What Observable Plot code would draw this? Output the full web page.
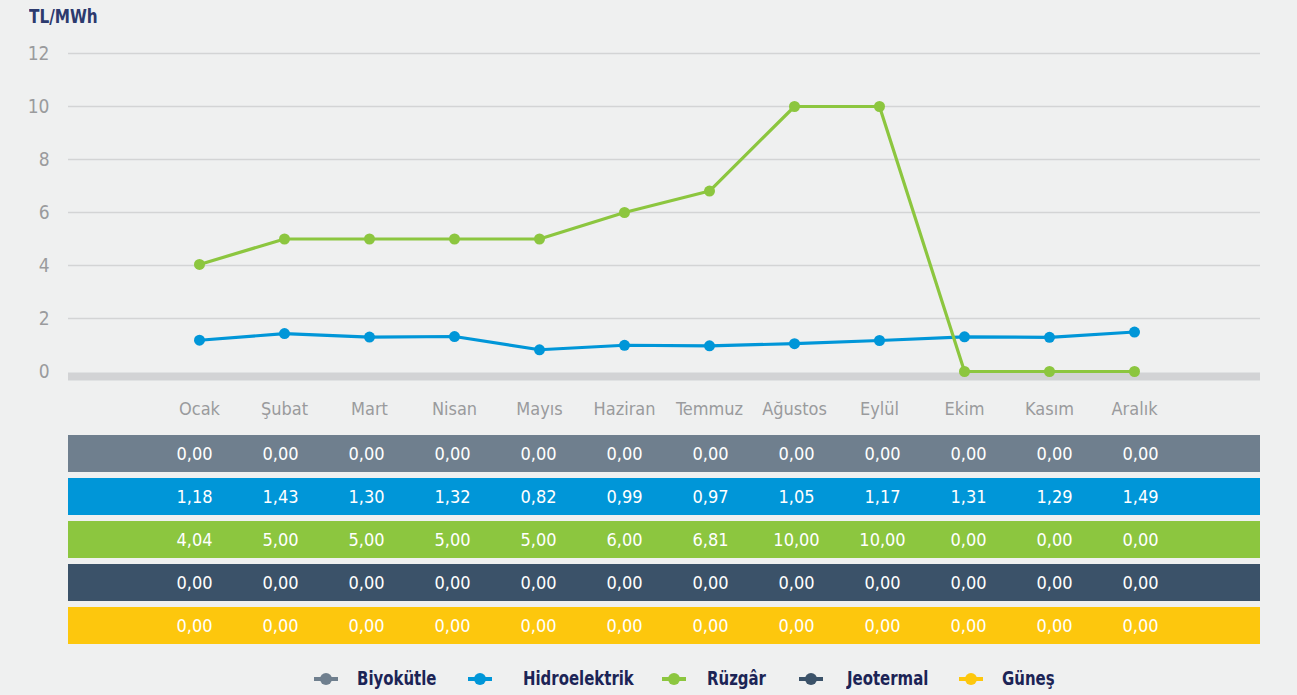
<!DOCTYPE html>
<html>
<head>
<meta charset="utf-8">
<script src="https://cdn.jsdelivr.net/npm/d3@7"></script>
<script src="https://cdn.jsdelivr.net/npm/@observablehq/plot@0.6"></script>
<style>
  html, body { margin: 0; padding: 0; background: #eff0f0; }
  body { width: 1297px; height: 695px; overflow: hidden; }
  #wrap { position: relative; width: 1297px; height: 695px;
    font-family: "Liberation Sans Narrow", "DejaVu Sans Condensed", "Roboto Condensed", Roboto, sans-serif; font-stretch: condensed; }
  #title { position: absolute; left: 29px; top: 4px; font-size: 20px; font-weight: bold; color: #2c3a6e; transform: scaleX(0.85); transform-origin: left center; }
  #chart { position: absolute; left: 0; top: 0; }
  #table { position: absolute; left: 0; top: 426px; }
  .leg { position: absolute; top: 666px; font-size: 20px; font-weight: bold; color: #1c2456; white-space: nowrap; transform: scaleX(0.83); transform-origin: left center; }
</style>
</head>
<body>
<div id="wrap">
  <div id="chart"></div>
  <div id="title">TL/MWh</div>
  <div id="table"></div>
  <div id="legend"></div>
</div>
<script>
const months = ["Ocak","Şubat","Mart","Nisan","Mayıs","Haziran","Temmuz","Ağustos","Eylül","Ekim","Kasım","Aralık"];
const seriesNames = ["Biyokütle","Hidroelektrik","Rüzgâr","Jeotermal","Güneş"];
const seriesColors = ["#6f7f8e","#0096d8","#8cc63f","#3b5269","#fdc70d"];
const biyokutle   = [0,0,0,0,0,0,0,0,0,0,0,0];
const hidro       = [1.18,1.43,1.30,1.32,0.82,0.99,0.97,1.05,1.17,1.31,1.29,1.49];
const ruzgar      = [4.04,5.00,5.00,5.00,5.00,6.00,6.81,10.00,10.00,0.00,0.00,0.00];
const jeotermal   = [0,0,0,0,0,0,0,0,0,0,0,0];
const gunes       = [0,0,0,0,0,0,0,0,0,0,0,0];
const yTicks = [0,2,4,6,8,10,12];
const plottedSeries = ["Hidroelektrik","Rüzgâr"];

const valuesBySeries = [biyokutle, hidro, ruzgar, jeotermal, gunes];
const rows = [];
seriesNames.forEach((s, i) => months.forEach((m, j) => rows.push({series: s, month: m, value: valuesBySeries[i][j]})));
const lineRows = rows.filter(d => plottedSeries.includes(d.series));

const font = '"Liberation Sans Narrow", "DejaVu Sans Condensed", "Roboto Condensed", Roboto, sans-serif';
const color = {domain: seriesNames, range: seriesColors};

const chart = Plot.plot({
  width: 1297, height: 428,
  marginLeft: 68, marginRight: 37, marginTop: 53, marginBottom: 57,
  style: {background: "transparent", fontFamily: font, overflow: "visible"},
  x: {type: "point", domain: months, range: [194, 1139], padding: 0},
  y: {domain: [0, 12]},
  color,
  marks: [
    Plot.ruleY(yTicks.filter(t => t > 0), {stroke: "#d3d4d5", strokeWidth: 1.6}),
    Plot.ruleY([0], {stroke: "#d2d3d5", strokeWidth: 8, dy: 5}),
    Plot.axisY({ticks: yTicks, tickSize: 0, tickPadding: 19, fontSize: 19, fill: "#9a9b9d", label: null}),
    Plot.axisX({tickSize: 0, tickPadding: 31, fontSize: 18, fill: "#9a9b9d", label: null}),
    Plot.line(lineRows, {x: "month", y: "value", z: "series", stroke: "series", strokeWidth: 3.2}),
    Plot.dot(lineRows, {x: "month", y: "value", fill: "series", r: 5.5})
  ]
});
document.getElementById("chart").appendChild(chart);

const fmt = v => d3.format(".2f")(v).replace(".", ",");
const table = Plot.plot({
  width: 1297, height: 224,
  marginLeft: 68, marginRight: 37, marginTop: 7, marginBottom: 5,
  style: {background: "transparent", fontFamily: font},
  x: {type: "point", domain: months, range: [192, 1141], padding: 0, axis: null},
  y: {type: "band", domain: seriesNames, paddingInner: 0.14, paddingOuter: 0, axis: null},
  color,
  marks: [
    Plot.cell(seriesNames, {y: d => d, fill: d => d}),
    Plot.text(rows, {x: "month", y: "series", text: d => fmt(d.value), fill: "white", fontSize: 18})
  ]
});
document.getElementById("table").appendChild(table);

const legendMarkerX = [326, 480, 674, 811, 971];
const legendTextX = [357, 523, 707, 847, 1002];
const legend = document.getElementById("legend");
seriesNames.forEach((s, i) => {
  const item = document.createElement("div");
  item.className = "leg";
  item.style.left = legendTextX[i] + "px";
  item.textContent = s;
  legend.appendChild(item);
  const mk = document.createElementNS("http://www.w3.org/2000/svg", "svg");
  mk.setAttribute("width", 26); mk.setAttribute("height", 14);
  mk.style.position = "absolute";
  mk.style.left = (legendMarkerX[i] - 13) + "px";
  mk.style.top = "672px";
  mk.innerHTML = `<line x1="1" x2="25" y1="7" y2="7" stroke="${seriesColors[i]}" stroke-width="4"/><circle cx="13" cy="7" r="6" fill="${seriesColors[i]}"/>`;
  document.getElementById("wrap").appendChild(mk);
});
</script>
</body>
</html>
